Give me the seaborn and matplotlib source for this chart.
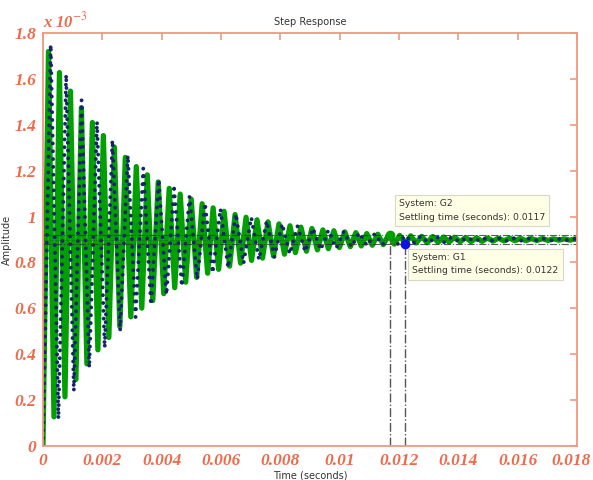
import numpy as np
import pandas as pd
import matplotlib
matplotlib.use("Agg")
import matplotlib.pyplot as plt
import matplotlib.transforms as mtransforms
import seaborn as sns

# step response data, amplitude in units of 1e-3
final_value = 0.9
band = 0.018  # 2% settling band

# G2 (green): half period and swing about final value at each extreme
g2_half_period = 0.000185
g2_swing = [0.820, 0.773, 0.728, 0.686, 0.647, 0.610, 0.575, 0.542, 0.510, 0.481,
            0.453, 0.427, 0.403, 0.380, 0.358, 0.337, 0.318, 0.299, 0.282, 0.266,
            0.251, 0.236, 0.223, 0.210, 0.198, 0.186, 0.176, 0.165, 0.156, 0.147,
            0.138, 0.130, 0.123, 0.116, 0.109, 0.103, 0.097, 0.091, 0.086, 0.081,
            0.077, 0.072, 0.068, 0.064, 0.060, 0.057, 0.054, 0.051, 0.048, 0.045,
            0.042, 0.040, 0.038, 0.035, 0.033, 0.031, 0.030, 0.028, 0.026, 0.025,
            0.023, 0.022, 0.021, 0.020, 0.018, 0.017, 0.016, 0.015, 0.014, 0.014,
            0.013, 0.012, 0.011, 0.011, 0.010, 0.010, 0.009, 0.009, 0.008, 0.008,
            0.007, 0.007, 0.006, 0.006, 0.006, 0.005, 0.005, 0.005, 0.004, 0.004,
            0.004, 0.004, 0.003, 0.003, 0.003, 0.003, 0.003]

# G1 (dark blue, dotted)
g1_half_period = 0.00026
g1_swing = [0.850, 0.782, 0.719, 0.661, 0.608, 0.559, 0.514, 0.472, 0.434, 0.399,
            0.367, 0.338, 0.310, 0.285, 0.262, 0.241, 0.222, 0.204, 0.188, 0.173,
            0.159, 0.146, 0.134, 0.123, 0.113, 0.104, 0.096, 0.088, 0.081, 0.075,
            0.069, 0.063, 0.058, 0.053, 0.049, 0.045, 0.041, 0.038, 0.035, 0.032,
            0.030, 0.027, 0.025, 0.023, 0.021, 0.019, 0.018, 0.016, 0.015, 0.014,
            0.013, 0.012, 0.011, 0.010, 0.009, 0.008, 0.008, 0.007, 0.007, 0.006,
            0.006, 0.005, 0.005, 0.004, 0.004, 0.004, 0.003, 0.003, 0.003]

settle_g2 = 0.0117
settle_g1 = 0.0122
x_ticks = [0, 0.002, 0.004, 0.006, 0.008, 0.01, 0.012, 0.014, 0.016, 0.018]
y_ticks = [0, 0.2, 0.4, 0.6, 0.8, 1, 1.2, 1.4, 1.6, 1.8]


def build(half, swing):
    n = len(swing)
    t = np.concatenate([[0], half * np.arange(1, n + 1), [0.018]])
    sign = np.where(np.arange(n) % 2 == 0, 1, -1)
    y = np.concatenate([[0], final_value + sign * np.array(swing), [final_value]])
    return pd.DataFrame({"t": t, "y": y})


g2 = build(g2_half_period, g2_swing)
g1 = build(g1_half_period, g1_swing)

sns.set_style("white")
fig = plt.figure(figsize=(5.93, 4.8), dpi=100)
ax = fig.add_axes([0.0725, 0.071, 0.9005, 0.86])

red = "#EE6A4A"
spine = "#F29782"

sns.lineplot(data=g2, x="t", y="y", ax=ax, color="#00A000", linewidth=3.8, sort=False)
sns.lineplot(data=g1, x="t", y="y", ax=ax, color="#17236E", linewidth=2.8, sort=False,
             linestyle=(0, (0.01, 2.0)), dash_capstyle="round")

# settling bands
for yb in (final_value - band, final_value + band):
    ax.axhline(yb, color="#333333", lw=0.8, ls="-.", alpha=0.8)
ax.axhline(final_value, color="#333333", lw=0.6, ls=":", alpha=0.6)

# settling time markers
ax.plot([settle_g2, settle_g2], [0, final_value + band], color="#555555", lw=1.0, ls="-.")
ax.plot([settle_g1, settle_g1], [0, final_value - band], color="#555555", lw=1.0, ls="-.")
ax.plot(settle_g2, final_value + band, "o", color="#00A000", ms=6)
ax.plot(settle_g1, final_value - band, "o", color="#1010E0", ms=6)

box = dict(boxstyle="square,pad=0.45", fc="#FFFFE6", ec="#D8D8C8", lw=0.8)
ax.text(0.01200, 1.075, "System: G2\nSettling time (seconds): 0.0117", fontsize=6.7,
        color="#333333", va="top", ha="left", bbox=box, linespacing=1.6)
ax.text(0.01245, 0.84, "System: G1\nSettling time (seconds): 0.0122", fontsize=6.7,
        color="#333333", va="top", ha="left", bbox=box, linespacing=1.6)

ax.set_xlim(0, 0.018)
ax.set_ylim(0, 1.8)
ax.set_xticks(x_ticks)
ax.set_yticks(y_ticks)
ax.set_xticklabels([f"{v:g}" for v in x_ticks])
ax.set_yticklabels([f"{v:g}" for v in y_ticks])
ax.tick_params(axis="both", direction="in", length=5, color=spine, width=1.2,
               top=True, right=True, labelcolor=red, pad=5)
for lab in ax.get_xticklabels() + ax.get_yticklabels():
    lab.set_fontfamily("Liberation Serif")
    lab.set_fontstyle("italic")
    lab.set_fontweight("bold")
    lab.set_fontsize(12.5)
# keep the last x label inside the figure
last = ax.get_xticklabels()[-1]
last.set_transform(last.get_transform() + mtransforms.ScaledTranslation(-4 / 72, 0, fig.dpi_scale_trans))
for s in ax.spines.values():
    s.set_color(spine)
    s.set_linewidth(1.3)

ax.text(0.0, 1.005, r"x 10$^{-3}$", transform=ax.transAxes, color=red, fontsize=12,
        fontfamily="Liberation Serif", fontstyle="italic", fontweight="bold",
        va="bottom", ha="left", math_fontfamily="stix")
ax.set_title("Step Response", fontsize=7, color="#333333", pad=6)
ax.set_xlabel("Time (seconds)", fontsize=7, color="#333333", labelpad=1)
ax.set_ylabel("Amplitude", fontsize=7, color="#333333")
ax.yaxis.set_label_coords(-0.058, 0.5)

fig.savefig("out.png", dpi=100)
